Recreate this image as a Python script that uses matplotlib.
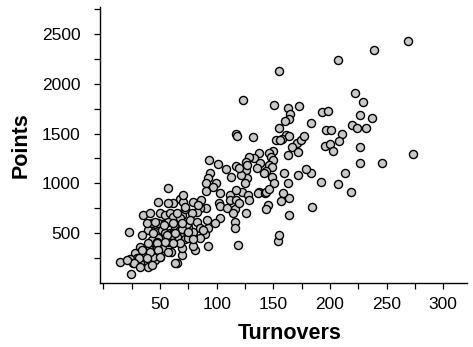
import numpy as np
import matplotlib.pyplot as plt

# turnovers vs points, one circle per player
turnovers = [
    269.3, 238.6, 207.3, 155.3, 123.0, 150.9, 163.2, 172.8, 164.9, 163.7,
    160.2, 154.7, 183.6, 192.7, 198.5, 221.9, 229.0, 226.3, 237.1, 219.6,
    224.0, 232.2, 196.8, 200.6, 210.8, 207.9, 226.3, 195.6, 200.0, 202.6,
    273.1, 226.3, 245.9, 213.7, 191.8, 207.0, 219.0, 183.6, 178.7, 172.0,
    184.5, 164.0, 164.0, 162.6, 159.6, 158.2, 156.6, 153.8, 155.3, 118.7,
    117.3, 118.1, 132.5, 161.0, 157.6, 152.3, 156.0, 164.0, 171.3, 174.3,
    177.2, 166.7, 172.0, 162.6, 149.4, 145.9, 137.7, 133.3, 128.4, 126.0,
    138.6, 148.0, 149.4, 146.5, 148.8, 143.6, 142.0, 148.8, 150.3, 126.0,
    126.6, 125.4, 121.6, 117.3, 119.6, 112.9, 108.0, 101.2, 93.3, 93.9,
    92.4, 90.9, 99.1, 96.8, 102.6, 101.8, 103.2, 111.4, 111.4, 116.7,
    109.4, 115.8, 116.4, 115.8, 126.0, 119.6, 122.5, 127.5, 128.9, 117.3,
    137.7, 136.3, 142.7, 143.6, 145.9, 144.9, 143.6, 102.6, 98.2, 92.4,
    91.5, 90.9, 86.5, 90.9, 85.1, 82.2, 77.8, 79.5, 83.9, 92.4,
    89.5, 85.1, 80.7, 78.7, 79.5, 75.1, 73.4, 71.9, 69.0, 71.9,
    67.5, 70.5, 61.1, 57.3, 57.3, 48.5, 35.4, 41.2, 50.0, 54.4,
    58.8, 61.7, 67.5, 63.1, 57.3, 52.0, 48.5, 42.7, 39.8, 34.0,
    22.5, 45.6, 51.5, 54.4, 58.8, 61.7, 67.5, 69.0, 71.9, 74.8,
    64.6, 61.7, 59.6, 64.6, 69.0, 69.0, 54.4, 52.0, 48.5, 47.1,
    50.0, 45.6, 44.2, 41.2, 40.6, 35.4, 38.3, 39.8, 32.5, 31.9,
    28.1, 29.5, 23.7, 26.3, 14.3, 24.3, 32.5, 36.8, 42.7, 44.2,
    47.1, 57.3, 60.2, 69.0, 75.1, 76.3, 82.2, 85.1, 88.0, 79.0,
    71.9, 69.9, 114.3, 136.0, 127.0, 38.3, 45.6, 53.8, 61.7, 69.0,
    55.8, 63.2, 67.5, 61.7, 54.4, 47.1, 39.8, 33.9, 41.2, 48.5,
    31.0, 26.6, 20.8, 38.3, 42.7, 50.0, 63.2, 57.3, 32.5, 64.6,
]
points = [
    2427, 2333, 2240, 2127, 1833, 1787, 1760, 1777, 1700, 1650,
    1627, 1560, 1607, 1713, 1730, 1903, 1813, 1690, 1660, 1583,
    1557, 1553, 1533, 1533, 1500, 1427, 1367, 1373, 1393, 1327,
    1293, 1200, 1200, 1100, 1010, 997, 917, 1100, 1140, 1083,
    760, 850, 683, 1007, 1100, 907, 827, 427, 483, 383,
    1493, 1473, 1467, 1483, 1450, 1440, 1433, 1473, 1407, 1440,
    1473, 1367, 1317, 1283, 1327, 1307, 1300, 1250, 1267, 1217,
    1200, 1267, 1233, 1183, 1167, 1127, 1100, 1067, 1007, 1133,
    1050, 1007, 1083, 1177, 1150, 1067, 1140, 1193, 1233, 1100,
    1050, 1007, 1007, 967, 907, 800, 773, 883, 833, 833,
    750, 740, 617, 550, 707, 800, 917, 883, 833, 933,
    917, 900, 907, 917, 940, 783, 740, 650, 600, 550,
    633, 750, 833, 927, 750, 717, 700, 817, 783, 373,
    493, 450, 333, 373, 517, 567, 593, 517, 683, 740,
    840, 817, 807, 807, 950, 817, 683, 700, 700, 683,
    700, 667, 650, 567, 617, 593, 607, 600, 533, 483,
    510, 517, 533, 500, 507, 500, 533, 467, 440, 450,
    460, 407, 317, 200, 283, 350, 450, 350, 450, 350,
    267, 233, 267, 400, 340, 327, 200, 167, 200, 267,
    300, 250, 240, 200, 217, 93, 367, 300, 433, 500,
    417, 417, 483, 540, 517, 633, 617, 550, 533, 440,
    767, 883, 700, 1150, 1183, 600, 617, 583, 600, 600,
    483, 500, 407, 400, 417, 400, 400, 333, 317, 333,
    250, 200, 233, 250, 183, 267, 200, 317, 167, 700,
]

x_labels = ["50", "100", "150", "200", "250", "300"]
y_labels = ["500", "1000", "1500", "2000", "2500"]

plt.rcParams["font.family"] = ["Liberation Sans", "DejaVu Sans"]

fig = plt.figure(figsize=(4.73, 3.47), dpi=100)
ax = fig.add_axes([100 / 473, 63.7 / 347, 367 / 473, 276.6 / 347])

ax.scatter(
    turnovers,
    points,
    s=34,
    facecolor="#c8c8c8",
    edgecolor="black",
    linewidth=1.0,
    zorder=3,
)

ax.set_xlim(-3, 321)
ax.set_ylim(0, 2770)

# ticks every 25 / 250, text only on the round values
xt = np.arange(0, 301, 25)
ax.set_xticks(xt)
ax.set_xticklabels([str(t) if str(t) in x_labels else "" for t in xt])

yt = np.arange(250, 2751, 250)
ax.set_yticks(yt)
ax.set_yticklabels([str(t) if str(t) in y_labels else "" for t in yt])

ax.tick_params(axis="both", labelsize=12.5, length=4, width=0.9, direction="out")
ax.tick_params(axis="x", pad=6)
ax.tick_params(axis="y", pad=10)

for side in ["top", "right"]:
    ax.spines[side].set_visible(False)
for side in ["left", "bottom"]:
    ax.spines[side].set_linewidth(1.0)

ax.set_xlabel("Turnovers", fontsize=15.5, fontweight="bold")
ax.set_ylabel("Points", fontsize=15.5, fontweight="bold")
ax.xaxis.set_label_coords(0.518, -0.145)
ax.yaxis.set_label_coords(-0.185, 0.5)

plt.savefig("out.png", dpi=100)
plt.close()
